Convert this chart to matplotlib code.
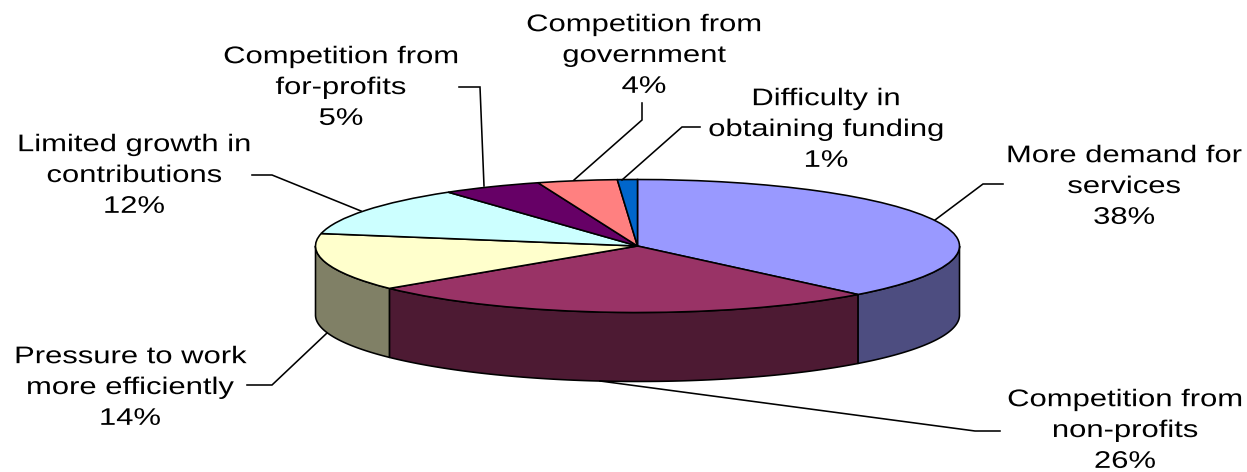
#!/usr/bin/env python3
"""3D-style pie: pressures on organisations, share of responses."""
import matplotlib
matplotlib.use("Agg")
import matplotlib.pyplot as plt
import matplotlib.patheffects as pe
from matplotlib.transforms import Affine2D
import numpy as np

categories = ["More demand for\nservices", "Competition from\nnon-profits",
              "Pressure to work\nmore efficiently", "Limited growth in\ncontributions",
              "Competition from\nfor-profits", "Competition from\ngovernment",
              "Difficulty in\nobtaining funding"]
shares = [38, 26, 14, 12, 5, 4, 1]
top_colors = ["#9999FF", "#993366", "#FFFFCC", "#CCFFFF", "#660066", "#FF8080", "#0066CC"]
wall_colors = ["#4D4D80", "#4D1A33", "#808066", "#668080", "#330033", "#804040", "#003366"]

W, H = 1247, 472
CX, CY, RX, RY = 637.5, 246.0, 322.0, 66.5   # top ellipse, pixels
DEPTH = 69.0 / RY                            # wall height in pie units
LW = 1.15
FONT_PT = 17.3
WIDEN = 1.29

# label centres and leader polylines, pixels
label_pos = [(1124, 187), (1125, 431), (130, 388), (134, 176), (341, 88), (644, 56), (826, 130)]
leaders = [
    [(935, 220), (983, 184), (1003, 184)],
    [(600, 381), (975, 431), (1000, 431)],
    [(327, 333), (272, 385), (247, 385)],
    [(361, 211), (272, 175), (252, 175)],
    [(484, 186), (480, 87), (459, 87)],
    [(574, 180), (642, 120), (642, 103)],
    [(622, 180), (682, 127), (700, 127)],
]


class Widen(pe.AbstractPathEffect):
    """Stretch glyphs horizontally about a fixed display x."""

    def __init__(self, x, factor):
        super().__init__()
        self.x = x
        self.factor = factor

    def draw_path(self, renderer, gc, tpath, affine, rgbFace=None):
        stretch = Affine2D().translate(-self.x, 0).scale(self.factor, 1).translate(self.x, 0)
        renderer.draw_path(gc, tpath, affine + stretch, rgbFace)


fig = plt.figure(figsize=(W / 100, H / 100), dpi=100, facecolor="white")

# pie axes: unit circle squashed to the top ellipse
ax = fig.add_axes([0, 0, 1, 1])
wedges, _ = ax.pie(shares, colors=top_colors, startangle=90, counterclock=False,
                   radius=1.0, center=(0, 0), frame=False,
                   wedgeprops=dict(edgecolor="black", linewidth=LW, zorder=3))
ax.set_aspect("auto")
ax.set_xlim(-CX / RX, (W - CX) / RX)
ax.set_ylim(-(H - CY) / RY, CY / RY)
ax.axis("off")

# side walls for the front half (clockwise angle from 12 o'clock, 90..270 visible)
edges = np.cumsum([0] + shares) / sum(shares) * 360.0
for start, stop, color in zip(edges[:-1], edges[1:], wall_colors):
    a, b = max(start, 90.0), min(stop, 270.0)
    if a >= b:
        continue
    t = np.radians(np.linspace(a, b, 90))
    xs = np.sin(t)
    ys = np.cos(t)
    ax.fill(np.r_[xs, xs[::-1]], np.r_[ys, ys[::-1] - DEPTH], facecolor=color,
            edgecolor="black", linewidth=LW, joinstyle="round", zorder=2)

# overlay in pixel coordinates for leaders and labels
ov = fig.add_axes([0, 0, 1, 1], facecolor="none")
ov.set_xlim(0, W)
ov.set_ylim(H, 0)
ov.axis("off")

for line in leaders:
    ov.plot(*zip(*line), color="black", lw=LW, solid_joinstyle="miter", zorder=1)

for name, share, (x, y) in zip(categories, shares, label_pos):
    ov.text(x, y, f"{name}\n{share}%", ha="center", va="center", ma="center",
            fontsize=FONT_PT, family="Liberation Sans", color="black", linespacing=1.52,
            path_effects=[Widen(x, WIDEN)])

fig.savefig("out.png", dpi=100)
